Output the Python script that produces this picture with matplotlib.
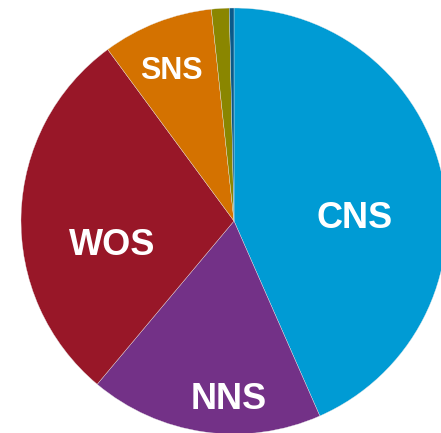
import matplotlib
matplotlib.use("Agg")
import matplotlib.pyplot as plt

labels = ["CNS", "NNS", "WOS", "SNS", "Other1", "Other2"]
values = [43.4, 17.7, 28.8, 8.4, 1.35, 0.35]
colors = ["#009bd4", "#733187", "#981728", "#d47200", "#8a8600", "#0a5a8a"]

# label text positions (relative to pie centre, radius units) and sizes
label_text = ["CNS", "NNS", "WOS", "SNS"]
label_pos = [(0.568, 0.014), (-0.023, -0.840), (-0.573, -0.117), (-0.296, 0.704)]
label_size = [26, 26, 26, 22]

W, H = 441, 433
cx, cy, R = 234, 212, 213  # centre in pixels from bottom-left, radius px

fig = plt.figure(figsize=(W / 100, H / 100), dpi=100)
ax = fig.add_axes([0, 0, 1, 1])
ax.pie(values, colors=colors, startangle=90, counterclock=False, radius=1,
       wedgeprops=dict(edgecolor="#e8e8e8", linewidth=0.25))
ax.set_xlim(-cx / R, (W - cx) / R)
ax.set_ylim(-cy / R, (H - cy) / R)
ax.set_aspect("auto")
ax.axis("off")

for t, (x, y), s in zip(label_text, label_pos, label_size):
    ax.text(x, y, t, color="white", fontsize=s, fontweight="bold",
            family="Liberation Sans", ha="center", va="center")

fig.savefig("out.png", dpi=100)
